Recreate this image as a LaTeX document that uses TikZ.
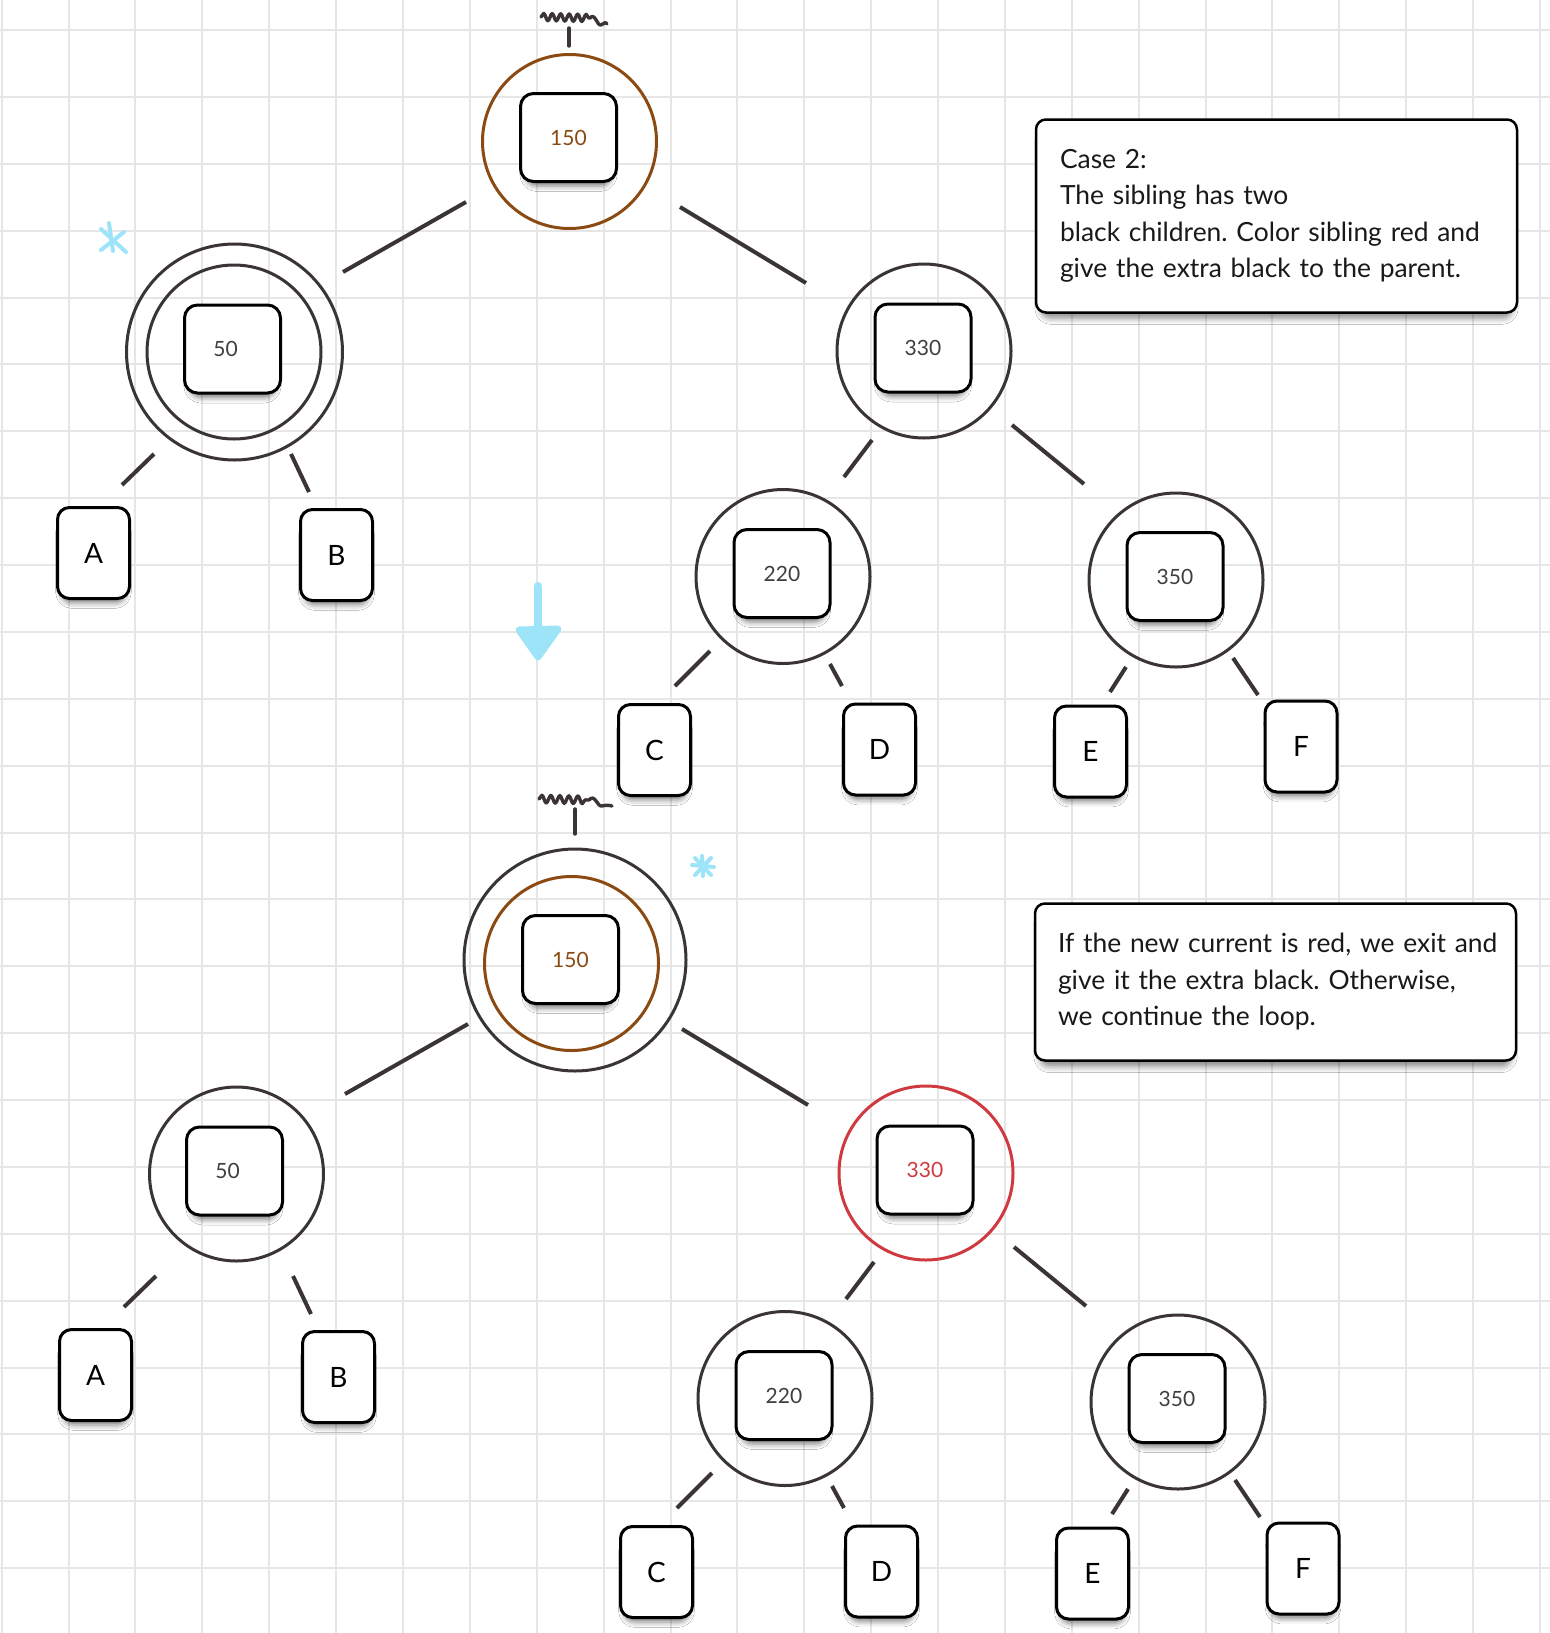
\documentclass[tikz,border=0pt]{standalone}
\usepackage{fontspec}
\setmainfont{Lato}
\usetikzlibrary{calc,shadows.blur,decorations.pathmorphing}
\definecolor{ink}{HTML}{3B3436}
\definecolor{brownc}{HTML}{8B4A12}
\definecolor{redc}{HTML}{CF3A40}
\definecolor{skyc}{HTML}{9EE4F8}
\definecolor{gridc}{HTML}{E6E6E6}
\definecolor{numc}{HTML}{3F3F3F}
\frenchspacing
\tikzset{
  ring/.style={circle, draw=ink, line width=3pt, minimum size=#1, inner sep=0pt},
  sdw/.style={blur shadow={shadow scale=0.9, shadow xshift=0pt, shadow yshift=-10pt, shadow blur radius=6pt, shadow opacity=50}},
  nsdw/.style={blur shadow={shadow scale=0.98, shadow xshift=0pt, shadow yshift=-8pt, shadow blur radius=6pt, shadow opacity=45}},
  numbox/.style={rectangle, rounded corners=13pt, draw=black, line width=3pt, fill=white,
    minimum width=96pt, minimum height=88pt, inner sep=0pt, font=\fontsize{21}{25}\selectfont, text=numc, sdw},
  letbox/.style={rectangle, rounded corners=12pt, draw=black, line width=3pt, fill=white,
    minimum width=72pt, minimum height=91pt, inner sep=0pt, font=\fontsize{28}{32}\selectfont, text=black, sdw},
  link/.style={draw=ink, line width=4pt},
  notebox/.style={rectangle, rounded corners=10pt, draw=black, line width=2.5pt, fill=white,
    align=left, font=\fontsize{26.4}{36.5}\selectfont, text=black!90, nsdw},
  squig/.style={ink, line width=3.4pt, line cap=round, line join=round},
  star/.style={skyc, line width=4pt, line cap=round}
}
\begin{document}
\begin{tikzpicture}[x=1pt, y=-1pt]
\useasboundingbox (0,0) rectangle (1550,1633);
\fill[white] (0,0) rectangle (1550,1633);
% grid
\foreach \i in {0,...,23} {
  \draw[gridc, line width=2pt] ({1.7+66.88*\i},0) -- ({1.7+66.88*\i},1633);
  \draw[gridc, line width=2pt] (0,{30+66.88*\i}) -- (1550,{30+66.88*\i});
}

% ================= top tree =================
\draw[squig, decorate, decoration={snake, segment length=8.5pt, amplitude=3.6pt}] (541,17) -- (590,18);
\draw[squig] (590,18) .. controls (595,12) and (597,26) .. (601,25) .. controls (604,24) and (605,21) .. (607,24);
\draw[squig] (569,28) -- (569,46);

\node[ring=174, draw=brownc] (t150c) at (569.5,141.5) {};
\node[ring=216] (t50o) at (234.5,352) {};
\node[ring=174] (t50c) at (234,352) {};
\node[ring=174] (t330c) at (924,351) {};
\node[ring=174] (t220c) at (783,576.5) {};
\node[ring=174] (t350c) at (1176,580) {};

\node[letbox] (tA) at (93.5,553) {A};
\node[letbox] (tB) at (336.5,555) {B};
\node[letbox] (tC) at (654.5,750) {C};
\node[letbox] (tD) at (879.5,749.5) {D};
\node[letbox] (tE) at (1090.5,751.5) {E};
\node[letbox] (tF) at (1301,746.5) {F};

\draw[link] ($(t150c.center)+(-103.5,60.5)$) -- ($(t50o.center)+(108.5,-80)$);
\draw[link] ($(t150c.center)+(110.5,65.5)$) -- ($(t330c.center)+(-118,-68)$);
\draw[link] ($(t50o.center)+(-80.5,102)$) -- ($(tA.center)+(28.5,-68)$);
\draw[link] ($(t50o.center)+(56.5,102)$) -- ($(tB.center)+(-27.5,-63)$);
\draw[link] ($(t330c.center)+(-52,89)$) -- ($(t220c.center)+(61,-99.5)$);
\draw[link] ($(t330c.center)+(88,74)$) -- ($(t350c.center)+(-92,-96)$);
\draw[link] ($(t220c.center)+(-73,74.5)$) -- ($(tC.center)+(20.5,-64)$);
\draw[link] ($(t220c.center)+(47,87.5)$) -- ($(tD.center)+(-37.5,-63.5)$);
\draw[link] ($(t350c.center)+(-50,87)$) -- ($(tE.center)+(19.5,-59.5)$);
\draw[link] ($(t350c.center)+(57,78)$) -- ($(tF.center)+(-43,-51.5)$);

\node[numbox, text=brownc] (t150) at (568.5,137.5) {150};
\node[numbox] (t50) at (232.5,349) {50\rule{14pt}{0pt}};
\node[numbox] (t330) at (923,348) {330};
\node[numbox] (t220) at (782,573.5) {220};
\node[numbox] (t350) at (1175,576.5) {350};

% asterisk top
\draw[star] (109,223) -- (113,251);
\draw[star] (101,229) -- (126,252);
\draw[star] (101,250) -- (124,232);

% blue arrow
\draw[skyc, line width=8pt, line cap=round] (538,586) -- (538,628);
\filldraw[skyc, line width=7pt, line join=round] (519,630) -- (558,629) -- (538,657) -- cycle;

% ================= bottom tree =================
\draw[squig, decorate, decoration={snake, segment length=9pt, amplitude=3.8pt}] (539,799) -- (589,800);
\draw[squig] (589,800) .. controls (595,793) and (597,807) .. (602,806) .. controls (606,805) and (608,805) .. (612,806);
\draw[squig] (575,809) -- (575,834);

\node[ring=222] (b150o) at (575,960) {};
\node[ring=174, draw=brownc] (b150c) at (571.5,963.5) {};
\node[ring=174] (b50c) at (236.5,1174) {};
\node[ring=174, draw=redc] (b330c) at (926,1173) {};
\node[ring=174] (b220c) at (785,1398.5) {};
\node[ring=174] (b350c) at (1178,1402) {};

\node[letbox] (bA) at (95.5,1375) {A};
\node[letbox] (bB) at (338.5,1377) {B};
\node[letbox] (bC) at (656.5,1572) {C};
\node[letbox] (bD) at (881.5,1571.5) {D};
\node[letbox] (bE) at (1092.5,1573.5) {E};
\node[letbox] (bF) at (1303,1568.5) {F};

\draw[link] ($(b150c.center)+(-103.5,60.5)$) -- ($(b50c.center)+(108.5,-80)$);
\draw[link] ($(b150c.center)+(110.5,65.5)$) -- ($(b330c.center)+(-118,-68)$);
\draw[link] ($(b50c.center)+(-80.5,102)$) -- ($(bA.center)+(28.5,-68)$);
\draw[link] ($(b50c.center)+(56.5,102)$) -- ($(bB.center)+(-27.5,-63)$);
\draw[link] ($(b330c.center)+(-52,89)$) -- ($(b220c.center)+(61,-99.5)$);
\draw[link] ($(b330c.center)+(88,74)$) -- ($(b350c.center)+(-92,-96)$);
\draw[link] ($(b220c.center)+(-73,74.5)$) -- ($(bC.center)+(20.5,-64)$);
\draw[link] ($(b220c.center)+(47,87.5)$) -- ($(bD.center)+(-37.5,-63.5)$);
\draw[link] ($(b350c.center)+(-50,87)$) -- ($(bE.center)+(19.5,-59.5)$);
\draw[link] ($(b350c.center)+(57,78)$) -- ($(bF.center)+(-43,-51.5)$);

\node[numbox, text=brownc] (b150) at (570.5,959.5) {150};
\node[numbox] (b50) at (234.5,1171) {50\rule{14pt}{0pt}};
\node[numbox, text=redc] (b330) at (925,1170) {330};
\node[numbox] (b220) at (784,1395.5) {220};
\node[numbox] (b350) at (1177,1398.5) {350};

% asterisk bottom
\draw[star] (702,856) -- (703,876);
\draw[star] (692,865) -- (714,867);
\draw[star] (695,858) -- (711,875);
\draw[star] (695,875) -- (711,858);

% ================= notes =================
\node[notebox, minimum width=481pt, minimum height=193pt, text width=433pt] (n1) at (1276.5,216)
  {\mbox{Case 2:}\\\mbox{The sibling has two}\\\mbox{black children. Color sibling red and}\\\mbox{give the extra black to the parent.}};
\node[notebox, minimum width=481pt, minimum height=157pt, text width=435pt] (n2) at (1275.5,982)
  {\mbox{If the new current is red, we exit and}\\\mbox{give it the extra black. Otherwise,}\\\mbox{we continue the loop.}};
\end{tikzpicture}
\end{document}
